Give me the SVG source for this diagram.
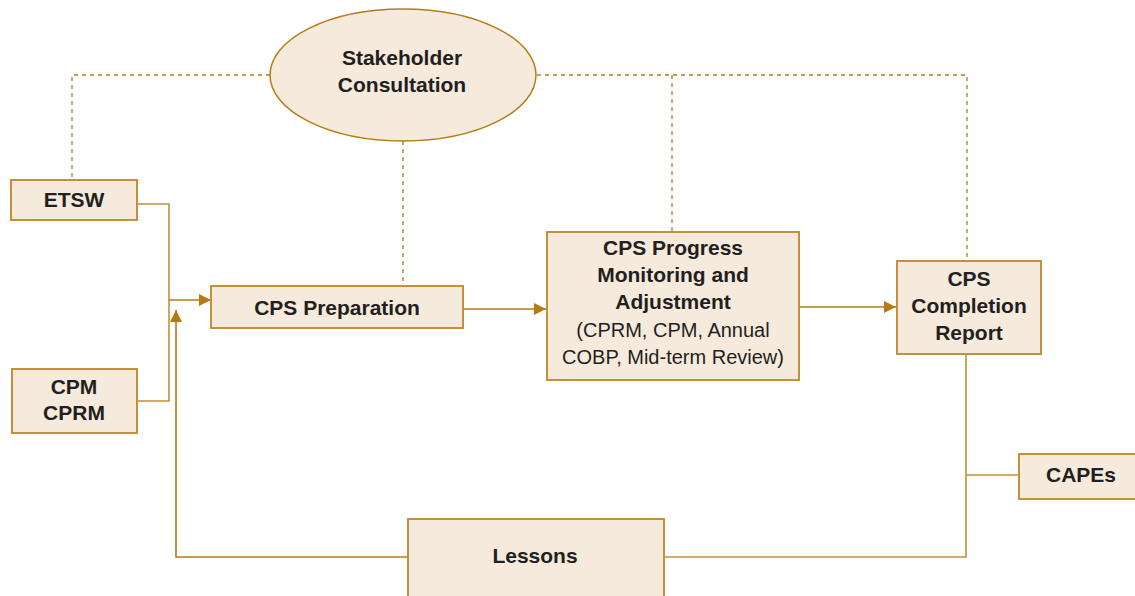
<svg xmlns="http://www.w3.org/2000/svg" width="1135" height="596" viewBox="0 0 1135 596">
<style>
.box{fill:#f5eadc;stroke:#c4903a;stroke-width:2}
.ell{fill:#f5eadc;stroke:#b57c16;stroke-width:1.5}
.t{font-family:"Liberation Sans",Arial,sans-serif;font-weight:bold;font-size:21px;fill:#231f20;text-anchor:middle}
.n{font-family:"Liberation Sans",Arial,sans-serif;font-size:20px;fill:#231f20;text-anchor:middle}
.ln{fill:none;stroke:#c4903a;stroke-width:1.6}
.ar{fill:none;stroke:#b87a10;stroke-width:1.6}
.ds{fill:none;stroke:#b87a10;stroke-width:1.3;stroke-dasharray:4,4}
</style>
<defs>
<marker id="ah" viewBox="0 0 10 10" refX="10" refY="5" markerWidth="16" markerHeight="12" markerUnits="userSpaceOnUse" orient="auto">
<path d="M0,0 L10,5 L0,10 z" fill="#b87a10"/>
</marker>
</defs>
<g id="connectors">
<path class="ds" d="M270,75 H72 V180"/>
<path class="ds" d="M537,75 H967 V261"/>
<path class="ds" d="M672,75 V232"/>
<path class="ds" d="M403,141 V286"/>
<path class="ln" d="M137,204 H169 V401 H137"/>
<path class="ar" d="M169,300 H211" marker-end="url(#ah)"/>
<path class="ar" d="M408,557 H176 V310" marker-end="url(#ah)"/>
<path class="ar" d="M463,309 H546" marker-end="url(#ah)"/>
<path class="ar" d="M799,307 H896" marker-end="url(#ah)"/>
<path class="ln" d="M966,354 V557 H664"/>
<path class="ln" d="M966,475 H1019"/>
</g>
<g id="stakeholder">
<ellipse class="ell" cx="403" cy="75" rx="133" ry="66"/>
<text class="t" x="402" y="65">Stakeholder</text>
<text class="t" x="402" y="92">Consultation</text>
</g>
<g id="etsw">
<rect class="box" x="11" y="180" width="126" height="40"/>
<text class="t" x="74" y="207">ETSW</text>
</g>
<g id="cpm">
<rect class="box" x="12" y="369" width="125" height="64"/>
<text class="t" x="74" y="394">CPM</text>
<text class="t" x="74" y="420">CPRM</text>
</g>
<g id="prep">
<rect class="box" x="211" y="286" width="252" height="42"/>
<text class="t" x="337" y="315">CPS Preparation</text>
</g>
<g id="progress">
<rect class="box" x="547" y="232" width="252" height="148"/>
<text class="t" x="673" y="255">CPS Progress</text>
<text class="t" x="673" y="282">Monitoring and</text>
<text class="t" x="673" y="309">Adjustment</text>
<text class="n" x="673" y="337">(CPRM, CPM, Annual</text>
<text class="n" x="673" y="364">COBP, Mid-term Review)</text>
</g>
<g id="completion">
<rect class="box" x="897" y="261" width="144" height="93"/>
<text class="t" x="969" y="286">CPS</text>
<text class="t" x="969" y="313">Completion</text>
<text class="t" x="969" y="340">Report</text>
</g>
<g id="capes">
<rect class="box" x="1019" y="454" width="125" height="45"/>
<text class="t" x="1081" y="482">CAPEs</text>
</g>
<g id="lessons">
<rect class="box" x="408" y="519" width="256" height="90"/>
<text class="t" x="535" y="563">Lessons</text>
</g>
</svg>
